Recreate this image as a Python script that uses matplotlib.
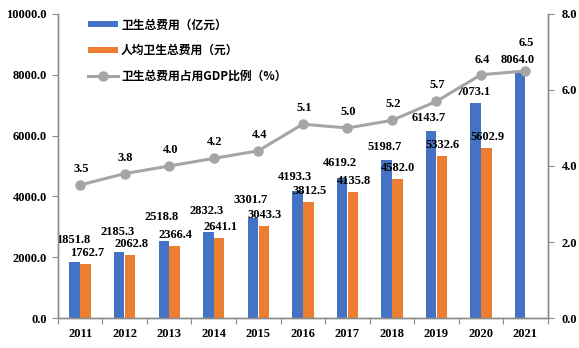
import matplotlib
matplotlib.use("Agg")
import matplotlib.pyplot as plt
import numpy as np

years = ["2011", "2012", "2013", "2014", "2015", "2016", "2017", "2018", "2019", "2020", "2021"]
total_exp = [1851.8, 2185.3, 2518.8, 2832.3, 3301.7, 4193.3, 4619.2, 5198.7, 6143.7, 7073.1, 8064.0]
per_capita = [1762.7, 2062.8, 2366.4, 2641.1, 3043.3, 3812.5, 4135.8, 4582.0, 5332.6, 5602.9, None]
gdp_ratio = [3.5, 3.8, 4.0, 4.2, 4.4, 5.1, 5.0, 5.2, 5.7, 6.4, 6.5]

left_ticks = [0, 2000, 4000, 6000, 8000, 10000]
right_ticks = [0, 2, 4, 6, 8]

# label placement (pixels above the mark), style only
blue_label_dy = [22, 20, 24, 21, 18, 14, 15, 13, 13, 11, 13]
line_label_dy = [16, 16, 16, 16, 16, 16, 16, 16, 16, 15, 28]

blue = "#4472C4"
orange = "#ED7D31"
gray = "#A5A5A5"
axis_gray = "#8C8C8C"

num_font = dict(family=["Liberation Serif", "DejaVu Serif"], weight="bold", size=9)
cjk_font = ["Noto Sans CJK SC", "DejaVu Sans"]

fig = plt.figure(figsize=(5.79, 3.48), dpi=100)
ax = fig.add_axes([0.100, 0.086, 0.846, 0.874])
ax2 = ax.twinx()

x = np.arange(len(years))
w = 0.235
bx = x - w / 2 - 0.005
ox = x + w / 2 + 0.005

ax.bar(bx, total_exp, width=w, color=blue, label="卫生总费用（亿元）", zorder=2)
pc_x = [ox[i] for i, v in enumerate(per_capita) if v is not None]
pc_v = [v for v in per_capita if v is not None]
ax.bar(pc_x, pc_v, width=w, color=orange, label="人均卫生总费用（元）", zorder=2)

for i, v in enumerate(total_exp):
    ax.annotate(f"{v:.1f}", (bx[i], v), xytext=(-2, blue_label_dy[i]), textcoords="offset pixels",
                ha="center", va="center", **num_font)
for xi, v in zip(pc_x, pc_v):
    ax.annotate(f"{v:.1f}", (xi, v), xytext=(1, 11), textcoords="offset pixels",
                ha="center", va="center", **num_font)

ln, = ax2.plot(x, gdp_ratio, color=gray, lw=2.2, marker="o", ms=6.5, label="卫生总费用占用GDP比例（%）", zorder=3)
for i, v in enumerate(gdp_ratio):
    ax2.annotate(f"{v:.1f}", (x[i], v), xytext=(1, line_label_dy[i]), textcoords="offset pixels",
                 ha="center", va="center", **num_font)

ax.set_xlim(-0.5, len(years) - 0.5)
ax.set_ylim(0, 10000)
ax2.set_ylim(0, 8)
ax.set_yticks(left_ticks)
ax.set_yticklabels([f"{t:.1f}" for t in left_ticks], **num_font)
ax2.set_yticks(right_ticks)
ax2.set_yticklabels([f"{t:.1f}" for t in right_ticks], **num_font)

ax.set_xticks(np.arange(-0.5, len(years) + 0.5, 1.0))
ax.set_xticklabels([])
ax.set_xticks(x, minor=True)
ax.set_xticklabels(years, minor=True, **num_font)
ax.tick_params(axis="x", which="minor", length=0, pad=7)
ax.tick_params(axis="x", which="major", length=4, color=axis_gray, direction="out")
ax.tick_params(axis="y", length=4, color=axis_gray, pad=4)
ax2.tick_params(axis="y", length=4, color=axis_gray, pad=6)

for a in (ax, ax2):
    a.spines["top"].set_visible(False)
    for s in ("left", "right", "bottom"):
        a.spines[s].set_color(axis_gray)
        a.spines[s].set_linewidth(1.0)

handles, labels = ax.get_legend_handles_labels()
handles.append(ln)
labels.append(ln.get_label())
leg = ax.legend(handles, labels, loc="upper left", bbox_to_anchor=(0.04, 1.02), frameon=False,
                prop=dict(family=cjk_font, weight="bold", size=8.5), handlelength=2.5,
                handleheight=0.4, labelspacing=1.05, handletextpad=0.3)

fig.savefig("out.png", dpi=100)
